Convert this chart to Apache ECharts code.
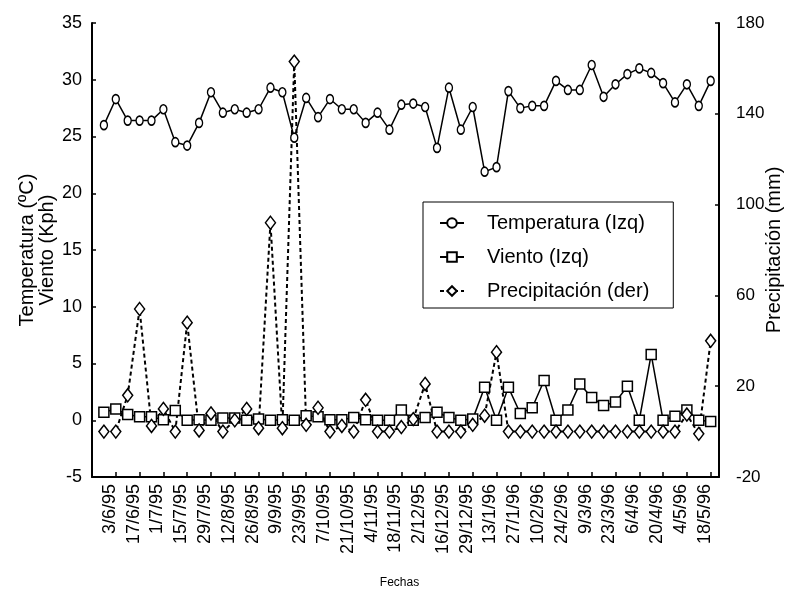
<!DOCTYPE html>
<html>
<head>
<meta charset="utf-8">
<title>Temperatura, viento y precipitación</title>
<script src="https://cdn.jsdelivr.net/npm/echarts@6.0.0/dist/echarts.min.js"></script>
<style>
    html, body { margin: 0; padding: 0; background: #fff; }
    #chart { width: 793px; height: 592px; }
</style>
</head>
<body>
<div id="chart"></div>
<script>
// weekly samples, 27/5/95 .. 18/5/96 (only every other date is labelled)
const fechas = [
    "27/5/95", "3/6/95", "10/6/95", "17/6/95", "24/6/95", "1/7/95", "8/7/95", "15/7/95",
    "22/7/95", "29/7/95", "5/8/95", "12/8/95", "19/8/95", "26/8/95", "2/9/95", "9/9/95",
    "16/9/95", "23/9/95", "30/9/95", "7/10/95", "14/10/95", "21/10/95", "28/10/95", "4/11/95",
    "11/11/95", "18/11/95", "25/11/95", "2/12/95", "9/12/95", "16/12/95", "22/12/95", "29/12/95",
    "6/1/96", "13/1/96", "20/1/96", "27/1/96", "3/2/96", "10/2/96", "17/2/96", "24/2/96",
    "2/3/96", "9/3/96", "16/3/96", "23/3/96", "30/3/96", "6/4/96", "13/4/96", "20/4/96",
    "27/4/96", "4/5/96", "11/5/96", "18/5/96"
];

// °C, left axis
const temperatura = [
    26.0, 28.3, 26.4, 26.4, 26.4, 27.4, 24.5, 24.2, 26.2, 28.9, 27.1, 27.4, 27.1,
    27.4, 29.3, 28.9, 24.9, 28.4, 26.7, 28.3, 27.4, 27.4, 26.2, 27.1, 25.6, 27.8,
    27.9, 27.6, 24.0, 29.3, 25.6, 27.6, 21.9, 22.3, 29.0, 27.5, 27.7, 27.7, 29.9,
    29.1, 29.1, 31.3, 28.5, 29.6, 30.5, 31.0, 30.6, 29.7, 28.0, 29.6, 27.7, 29.9
];

// Kph, left axis
const viento = [
    0.7, 1.0, 0.5, 0.3, 0.3, 0.05, 0.85, 0, 0.05, 0, 0.2, 0.2, 0,
    0.1, 0, 0.05, 0, 0.4, 0.3, 0.05, 0.05, 0.25, 0.05, 0, 0, 0.9,
    0, 0.25, 0.7, 0.25, 0, 0.1, 2.9, 0, 2.9, 0.6, 1.1, 3.5, 0,
    0.9, 3.2, 2.0, 1.3, 1.6, 3.0, 0, 5.8, 0, 0.35, 0.9, 0, -0.1
];

// mm, right axis
const precipitacion = [
    0, 0, 16, 54, 2.5, 10, 0, 48, 0.5, 8, 0, 5, 10,
    1.5, 92, 1.5, 163, 3, 10.5, 0, 2.5, 0, 14, 0, 0, 2,
    5.5, 21, 0, 0, 0, 3, 7, 35, 0, 0, 0, 0, 0,
    0, 0, 0, 0, 0, 0, 0, 0, 0, 0, 7.5, -1, 40
];

const ejeIzq = { min: -5, max: 35, interval: 5 };
const ejeDer = { min: -20, max: 180, interval: 40 };

const FONT = "Liberation Sans, Arial, Helvetica, sans-serif";

/**
 * Pairs every value with its sample index so the value x axis can place it.
 */
function toPoints(values) {
    return values.map((v, i) => [i, v]);
}

function axisBase() {
    return {
        axisLine: { show: true, onZero: false, lineStyle: { color: "#000", width: 2 } },
        axisTick: { show: true, inside: true, length: 4, lineStyle: { color: "#000", width: 1.5 } },
        splitLine: { show: false },
        nameMoveOverlap: false,
        axisLabel: { color: "#000", fontFamily: FONT, fontSize: 18 }
    };
}

const chart = echarts.init(document.getElementById("chart"), null, { renderer: "canvas" });

const xAxis = Object.assign(axisBase(), {
    type: "value",
    min: -1,
    max: 51.7,
    interval: 2,
    name: "Fechas",
    nameLocation: "middle",
    nameGap: 100,
    nameTextStyle: { color: "#000", fontFamily: FONT, fontSize: 12, padding: [0, 12, 0, 0] }
});
xAxis.axisTick.length = 5;
xAxis.axisLabel = {
    color: "#000",
    fontFamily: FONT,
    fontSize: 18,
    rotate: 90,
    margin: 7,
    verticalAlign: "bottom",
    lineHeight: 12,
    showMinLabel: false,
    showMaxLabel: false,
    hideOverlap: false,
    formatter: function (v) {
        return Number.isInteger(v) && fechas[v] ? fechas[v] : "";
    }
};

const yLeft = Object.assign(axisBase(), {
    type: "value",
    position: "left",
    min: ejeIzq.min,
    max: ejeIzq.max,
    interval: ejeIzq.interval,
    name: "Temperatura (ºC)\nViento (Kph)",
    nameLocation: "middle",
    nameGap: 35,
    nameTextStyle: { color: "#000", fontFamily: FONT, fontSize: 20, lineHeight: 20, align: "center" }
});
yLeft.axisLabel.margin = 10;

const yRight = Object.assign(axisBase(), {
    type: "value",
    position: "right",
    min: ejeDer.min,
    max: ejeDer.max,
    interval: ejeDer.interval,
    name: "Precipitación (mm)",
    nameLocation: "middle",
    nameGap: 45,
    nameTextStyle: { color: "#000", fontFamily: FONT, fontSize: 20 }
});
yRight.axisLabel.margin = 17;
yRight.axisLabel.fontSize = 17;

const option = {
    animation: false,
    backgroundColor: "#fff",
    textStyle: { fontFamily: FONT, color: "#000" },
    grid: { left: 92, right: 74, top: 23, bottom: 115, containLabel: false, outerBoundsMode: "none" },
    legend: {
        orient: "vertical",
        left: 423,
        top: 202,
        backgroundColor: "#fff",
        borderColor: "#000",
        borderWidth: 1,
        padding: [11, 24, 7, 16],
        itemGap: 14,
        itemWidth: 24,
        itemHeight: 12,
        textStyle: { color: "#000", fontFamily: FONT, fontSize: 20, padding: [0, 0, 0, 18] },
        data: ["Temperatura (Izq)", "Viento (Izq)", "Precipitación (der)"]
    },
    xAxis: xAxis,
    yAxis: [yLeft, yRight],
    series: [
        {
            name: "Temperatura (Izq)",
            type: "line",
            yAxisIndex: 0,
            data: toPoints(temperatura),
            symbol: "circle",
            symbolSize: [7, 9],
            lineStyle: { color: "#000", width: 1.5 },
            itemStyle: { color: "#fff", borderColor: "#000", borderWidth: 1.5 }
        },
        {
            name: "Viento (Izq)",
            type: "line",
            yAxisIndex: 0,
            data: toPoints(viento),
            symbol: "rect",
            symbolSize: 10,
            lineStyle: { color: "#000", width: 1.5 },
            itemStyle: { color: "#fff", borderColor: "#000", borderWidth: 1.5 }
        },
        {
            name: "Precipitación (der)",
            type: "line",
            yAxisIndex: 1,
            data: toPoints(precipitacion),
            symbol: "diamond",
            symbolSize: [10, 13],
            lineStyle: { color: "#000", width: 2, type: [4, 3] },
            itemStyle: { color: "#fff", borderColor: "#000", borderWidth: 1.5 }
        }
    ]
};

chart.setOption(option);
</script>
</body>
</html>
